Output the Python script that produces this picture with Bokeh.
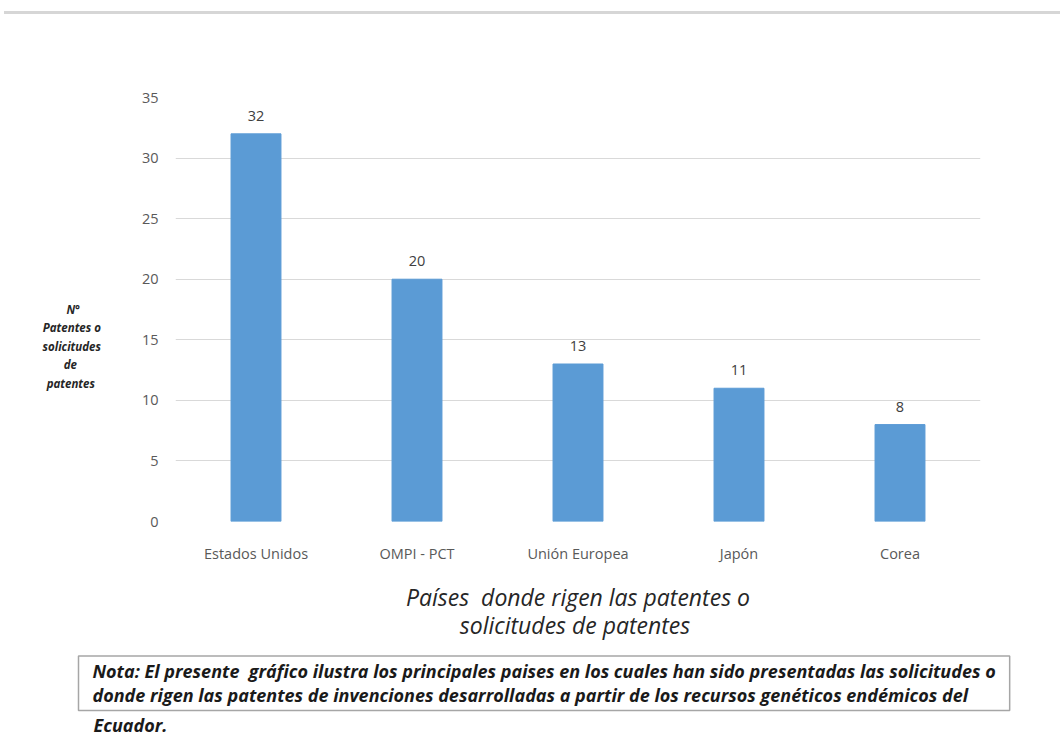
from bokeh.plotting import figure
from bokeh.models import ColumnDataSource, LabelSet, Range1d, FactorRange, Title, Div
from bokeh.layouts import column
from bokeh.embed import file_html
from bokeh.resources import INLINE
from bokeh.core.properties import value

# ---- data ----
paises = ["Estados Unidos", "OMPI - PCT", "Unión Europea", "Japón", "Corea"]
patentes = [32, 20, 13, 11, 8]
y_ticks = [0, 5, 10, 15, 20, 25, 30, 35]
y_title_lines = ["N°", "Patentes o", "solicitudes", "de", "patentes"]
x_title_lines = ["Países \u00a0donde rigen las patentes o", "solicitudes de patentes"]
nota_lines = [
    "Nota: El presente \u00a0gráfico ilustra los principales paises en los cuales han sido presentadas las solicitudes o",
    "donde rigen las patentes de invenciones desarrolladas a partir de los recursos genéticos endémicos del",
]
nota_tail = "Ecuador."

FONT = "Open Sans"
NB = "\u00a0"
W = 1060
RULE_H = 14
H = 722

rule = Div(text="", width=W - 4, height=RULE_H, margin=(0, 0, 0, 4),
           styles={"border-bottom": "3px solid #d6d6d6", "box-sizing": "border-box"})

src = ColumnDataSource(dict(pais=paises, n=patentes, lab=[str(v) for v in patentes]))
p = figure(x_range=FactorRange(*paises), y_range=Range1d(0, 35), width=W, height=H,
           min_border_left=175, min_border_right=W - 980, min_border_top=83,
           min_border_bottom=H - (539 - RULE_H),
           output_backend="svg", toolbar_location=None)
p.outline_line_color = None
p.xgrid.grid_line_color = None
p.ygrid.grid_line_color = "#d9d9d9"
p.ygrid.grid_line_width = 1
p.yaxis.ticker = y_ticks
for ax in (p.xaxis, p.yaxis):
    ax.axis_line_color = None
    ax.major_tick_line_color = None
    ax.minor_tick_line_color = None
    ax.major_label_text_font = FONT
    ax.major_label_text_font_size = "14.5px"
    ax.major_label_text_color = "#595959"
p.xaxis.major_label_standoff = 16
p.yaxis.major_label_standoff = 11

# y axis title: horizontal, lines padded with no-break spaces to look centred
pads = [7, 0, 0, 8, 2]
p.yaxis.axis_label = "\n".join([NB] * 4 + [t + NB * k for t, k in zip(y_title_lines, pads)])
p.yaxis.axis_label_orientation = "horizontal"
p.yaxis.axis_label_text_font = FONT
p.yaxis.axis_label_text_font_style = "bold italic"
p.yaxis.axis_label_text_font_size = "11.5px"
p.yaxis.axis_label_text_color = "#262626"
p.yaxis.axis_label_text_line_height = 1.23
p.yaxis.axis_label_standoff = 38

p.vbar(x="pais", top="n", width=0.31, source=src, fill_color="#5b9bd5", line_color="#5b9bd5")
p.add_layout(LabelSet(x="pais", y="n", text="lab", source=src, text_align="center",
                      text_baseline="bottom", y_offset=13, text_font=value(FONT),
                      text_font_size="14.5px", text_color="#404040"))

# x axis title (two lines, second one padded to sit centred)
p.add_layout(Title(text=x_title_lines[0] + "\n" + NB * 9 + x_title_lines[1],
                   align="center", offset=-11, standoff=27,
                   text_font=FONT, text_font_style="italic",
                   text_font_size="23px", text_color="#262626",
                   text_line_height=0.86), "below")

# note box with text
p.add_layout(Title(text="\n".join(nota_lines), align="left", offset=-97, standoff=0,
                   text_font=FONT, text_font_style="bold italic", text_font_size="18px",
                   text_color="#1a1a1a", text_line_height=1.02,
                   border_line_color="#a6a6a6", border_line_width=1.5,
                   background_fill_color="white", padding=(14, 3)), "below")
p.add_layout(Title(text=nota_tail, align="left", offset=-82, standoff=0,
                   text_font=FONT, text_font_style="bold italic", text_font_size="18px",
                   text_color="#1a1a1a", text_line_height=0.7), "below")

layout = column(rule, p)
open("out.html", "w").write(file_html(layout, INLINE))
